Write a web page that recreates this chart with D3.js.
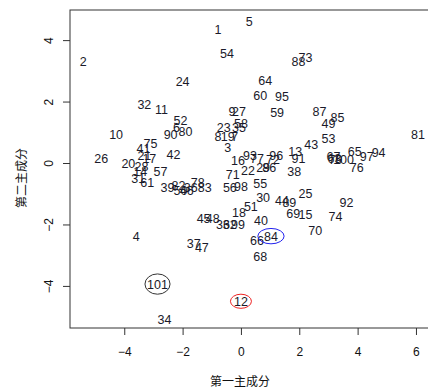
<!DOCTYPE html>
<html><head><meta charset="utf-8">
<script src="https://cdn.jsdelivr.net/npm/d3@7"></script>
<style>body{margin:0;background:#fff}svg{display:block}</style>
</head><body>
<svg id="c" width="428" height="391"></svg>
<script>
const labels = d3.range(1, 102).map(String);
const pc1 = [-0.79,-5.41,-0.45,-3.59,0.28,-2.21,-0.21,-0.79,-0.31,-4.28,
-2.72,0.00,1.86,-3.45,2.21,-0.10,-3.14,-0.07,-0.45,-3.86,
-3.31,0.24,-0.59,-2.00,2.21,-4.79,-0.07,-3.41,0.76,0.76,
-3.52,-3.31,-0.62,-2.62,-0.07,-1.72,-1.62,1.83,-2.52,0.69,
-3.34,-2.31,2.41,1.41,-1.28,-1.86,-1.34,-0.97,3.00,-2.07,
0.34,-2.07,3.00,-0.48,0.66,-0.38,-2.76,0.00,1.24,0.66,
-3.21,-0.38,3.21,0.83,3.90,0.55,3.17,0.66,1.79,2.55,
-0.28,1.10,2.21,3.24,-3.10,3.97,0.55,-1.48,3.24,-1.90,
6.07,-2.14,-1.24,1.03,3.31,0.97,2.69,1.97,1.66,-2.41,
1.97,3.62,0.31,4.72,1.41,1.21,4.31,0.00,-0.10,3.52,-2.86];
const pc2 = [4.33,3.29,0.49,-2.38,4.59,1.17,0.85,0.85,1.69,0.94,
1.73,-4.50,0.39,-0.29,-1.66,0.07,0.16,-1.60,0.85,-0.03,
0.26,-0.26,1.17,2.64,-0.98,0.16,1.69,-0.10,-0.13,-1.11,
-0.49,1.89,-1.99,-5.08,1.14,-0.81,-2.61,-0.29,-0.81,-1.86,
0.46,0.29,0.59,-1.21,-1.79,-0.88,-2.74,-1.79,1.27,-0.91,
-1.43,1.37,0.81,3.55,-0.68,-0.81,-0.29,1.30,1.63,2.21,
-0.65,-1.99,0.16,2.70,0.39,-2.51,0.20,-3.03,-1.63,-2.21,
-0.36,0.13,3.45,-1.73,0.62,-0.16,0.16,-0.62,0.13,1.04,
0.94,-0.72,-0.81,-2.38,1.47,-0.13,1.69,3.32,-1.30,0.94,
0.16,-1.27,0.23,0.33,2.15,0.26,0.20,-0.78,-1.99,0.10,-3.94];
const xTicks = [-4,-2,0,2,4,6];
const yTicks = [-4,-2,0,2,4];
const markIds = ["101","12","84"];
const markColors = ["#333333","#ee2222","#2222ee"];
const markRx = [0.43,0.36,0.45];
const markRy = [0.33,0.23,0.25];

const svg = d3.select("#c");
const L=70, R=432, T=10, B=328;
const x = d3.scaleLinear().domain([-5.86,6.55]).range([L,R]);
const y = d3.scaleLinear().domain([4.98,-5.37]).range([T,B]);
const font = "'Liberation Sans', Arial, sans-serif";

svg.append("rect").attr("x",L).attr("y",T).attr("width",R-L).attr("height",B-T)
  .attr("fill","none").attr("stroke","#333").attr("stroke-width",1);

const xa = svg.append("g").attr("transform",`translate(0,${B})`)
  .call(d3.axisBottom(x).tickValues(xTicks).tickSize(7).tickPadding(12).tickFormat(d3.format("d")));
xa.select(".domain").remove();
const ya = svg.append("g").attr("transform",`translate(${L},0)`)
  .call(d3.axisLeft(y).tickValues(yTicks).tickSize(7).tickPadding(12).tickFormat(d3.format("d")));
ya.select(".domain").remove();
svg.selectAll(".tick line").attr("stroke","#333");
svg.selectAll(".tick text").attr("font-family",font).attr("font-size","12px").attr("fill","#111");
ya.selectAll(".tick text").attr("text-anchor","middle").attr("dy",null)
  .attr("x",null).attr("transform",d=>`translate(-20,${y(d)-y(d)}) rotate(-90)`)
  .attr("dominant-baseline","middle");
ya.selectAll(".tick text").attr("transform","translate(-20,0) rotate(-90)");

svg.append("text").attr("x",240).attr("y",386).attr("text-anchor","middle")
  .attr("font-family","'Noto Sans CJK SC', sans-serif").attr("font-size","12px").attr("fill","#111").text("第一主成分");
svg.append("text").attr("transform","translate(26,178) rotate(-90)").attr("text-anchor","middle")
  .attr("font-family","'Noto Sans CJK SC', sans-serif").attr("font-size","12px").attr("fill","#111").text("第二主成分");

const data = labels.map((l,i)=>({l, x:pc1[i], y:pc2[i]}));
svg.append("g").selectAll("text").data(data).join("text")
  .attr("x",d=>x(d.x)).attr("y",d=>y(d.y)).attr("text-anchor","middle")
  .attr("dy","0.36em").attr("font-family",font).attr("font-size","12.5px").attr("fill","#1a1a2a")
  .text(d=>d.l);

markIds.forEach((id,i)=>{
  const d = data.find(e=>e.l===id);
  svg.append("ellipse").attr("cx",x(d.x)).attr("cy",y(d.y))
    .attr("rx",x(markRx[i])-x(0)).attr("ry",y(0)-y(markRy[i]))
    .attr("fill","none").attr("stroke",markColors[i]).attr("stroke-width",1);
});
</script>
</body></html>
